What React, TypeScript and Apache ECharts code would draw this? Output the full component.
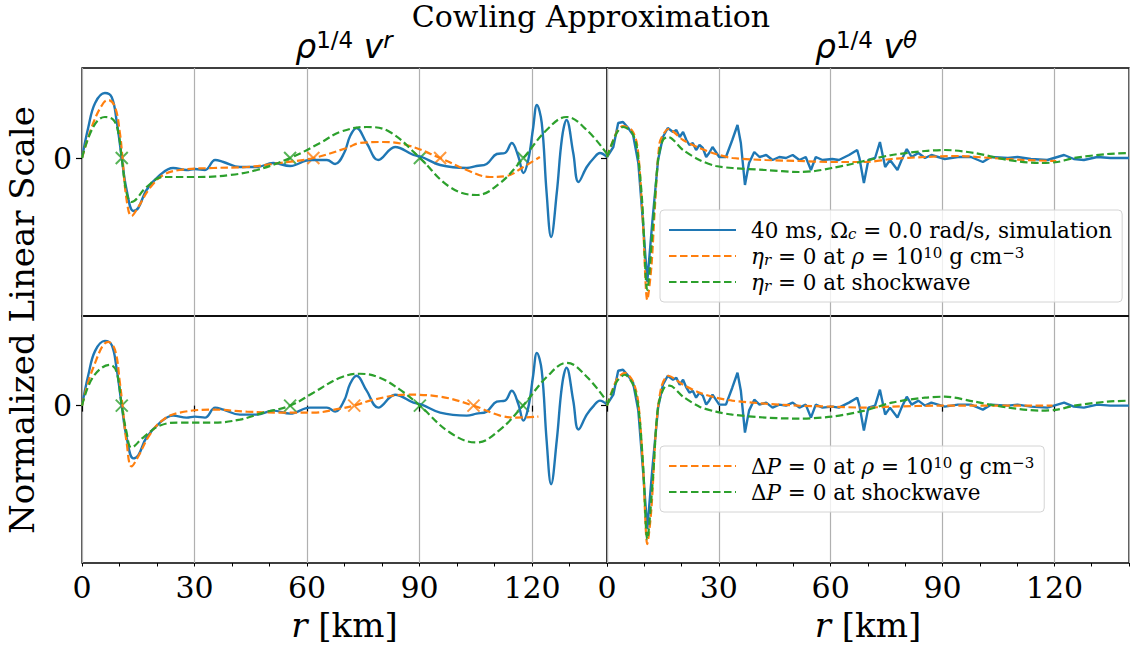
import React, { useEffect, useRef } from "react";
import * as echarts from "echarts";

// ---------- data (r in km, normalized amplitude) ----------
// simulation, rho^{1/4} v^r
const SIM_VR_R = [0, 1.7, 3.5, 6.1, 7.9, 9.2, 10.6, 11.9, 13.7, 15, 17.2, 20.8, 24.3, 27.9, 30.1, 32.8, 35.5, 37.7, 42.1, 46.6, 51, 55.5, 60.8, 65.3, 67.5, 69.9, 71.5, 73.2, 75.9, 79, 83.5, 88.4, 90.6, 95.5, 102.6, 105.2, 107.9, 110.6, 112.8, 114.6, 116.4, 117.7, 119, 120.3, 121.3, 122.6, 123.9, 125.1, 126.6, 128, 129.2, 131, 132.4, 134.6, 136.5, 138.1, 140];
const SIM_VR_V = [0, 0.31, 0.55, 0.65, 0.61, 0.38, 0, -0.32, -0.53, -0.5, -0.32, -0.17, -0.1, -0.12, -0.11, -0.12, -0.02, -0.04, -0.09, -0.09, -0.05, -0.08, -0.02, -0.02, -0.06, 0.05, 0.22, 0.3, 0.15, -0.02, 0.11, 0.03, 0.01, -0.07, -0.1, -0.08, -0.06, 0.04, 0.05, 0.15, 0.01, -0.15, -0.02, 0.3, 0.53, 0.35, -0.35, -0.79, -0.35, 0.2, 0.38, 0.05, -0.24, -0.09, 0, 0.05, 0.01];

// eta_r = 0 at rho = 1e10, v^r
const ETA_RHO_VR_R = [0, 3, 5.7, 7, 8.8, 10.1, 10.8, 11.9, 13.2, 15, 18.1, 21.7, 26.1, 35, 43.9, 52.8, 61.7, 70.6, 74.1, 80.3, 86.6, 95.5, 102.6, 108.8, 113.2, 117.7, 122.1];
const ETA_RHO_VR_V = [0, 0.35, 0.55, 0.58, 0.51, 0.25, 0, -0.42, -0.58, -0.49, -0.3, -0.17, -0.12, -0.1, -0.09, -0.05, 0, 0.1, 0.15, 0.16, 0.13, 0, -0.12, -0.19, -0.18, -0.09, 0.01];
// eta_r = 0 at shockwave, v^r
const ETA_SHOCK_VR_R = [0, 3, 6.1, 8.4, 9.7, 10.6, 11.9, 13.2, 17.2, 21.7, 30.6, 39.5, 46.6, 55.5, 63.5, 68.8, 75.9, 82.1, 90.1, 98.1, 105.2, 111.5, 117.7, 123.9, 129.2, 134.6, 140];
const ETA_SHOCK_VR_V = [0, 0.31, 0.41, 0.38, 0.25, 0, -0.35, -0.44, -0.29, -0.19, -0.19, -0.17, -0.12, 0, 0.15, 0.26, 0.31, 0.26, 0, -0.29, -0.37, -0.25, 0, 0.28, 0.41, 0.28, 0.04];
// dP = 0 at rho = 1e10, v^r
const DP_RHO_VR_R = [0, 3, 7, 8.8, 10.1, 10.8, 11.9, 13.2, 15, 18.1, 21.7, 26.1, 35, 43.9, 52.8, 61.7, 68.8, 72.6, 77.7, 86.6, 95.5, 104.4, 111.5, 115.9, 121.7];
const DP_RHO_VR_V = [0, 0.38, 0.64, 0.56, 0.23, 0, -0.37, -0.61, -0.51, -0.29, -0.14, -0.07, -0.04, -0.06, -0.07, -0.07, -0.03, 0, 0.06, 0.11, 0.09, 0, -0.1, -0.12, -0.11];
// dP = 0 at shockwave, v^r
const DP_SHOCK_VR_R = [0, 3, 7.5, 9.2, 10.6, 11.9, 13.2, 16.3, 20.8, 26.1, 35, 42.1, 48.4, 55.5, 61.7, 68.8, 74.1, 79.4, 84.8, 90.1, 98.1, 105.2, 111.5, 117.6, 124, 129.3, 134.6, 140];
const DP_SHOCK_VR_V = [0, 0.29, 0.41, 0.34, 0, -0.27, -0.42, -0.32, -0.2, -0.17, -0.17, -0.14, -0.07, 0, 0.13, 0.28, 0.32, 0.28, 0.16, 0, -0.27, -0.37, -0.24, 0, 0.29, 0.43, 0.29, 0.04];

// zero crossings (x markers), v^r panels
const ETA_RHO_VR_ZEROS = [61.7, 95.5];
const ETA_SHOCK_VR_ZEROS = [10.6, 55.5, 90.1, 117.7];
const DP_RHO_VR_ZEROS = [72.6, 104.4];
const DP_SHOCK_VR_ZEROS = [10.6, 55.5, 90.1, 117.6];

// simulation, rho^{1/4} v^theta
const SIM_VTH_R = [0, 1.7, 3, 4.3, 5.7, 7, 8.4, 9.6, 10.8, 12.2, 13.7, 15, 16.3, 17.7, 18.6, 19.5, 20.4, 21.3, 22.1, 23, 23.9, 24.8, 25.7, 26.6, 27.4, 28.3, 29.2, 30.1, 31.9, 33.6, 35, 35.9, 37, 38.1, 39.5, 40.9, 42.7, 44.4, 46.2, 48, 49.8, 51.6, 53.3, 54.7, 56, 57.8, 60.4, 62.2, 64.9, 67.1, 67.7, 68.9, 70.1, 71.9, 73.2, 74.6, 75.9, 77.9, 79, 80.4, 81.7, 83.5, 85.3, 87, 90.6, 94.1, 97.6, 100.8, 103, 107.5, 110.1, 113.7, 118.1, 122.6, 125.2, 127.9, 131.5, 135, 138.6, 140];
const SIM_VTH_V = [0.01, 0.11, 0.35, 0.36, 0.3, 0.23, -0.05, -0.62, -1.24, -0.62, -0.02, 0.21, 0.3, 0.26, 0.28, 0.21, 0.26, 0.18, 0.13, 0.15, 0.08, 0.13, 0.1, 0.01, 0.05, 0.11, 0.06, 0.01, 0.01, 0.18, 0.33, 0.15, -0.27, -0.05, 0.06, 0.01, 0.03, -0.02, 0.01, 0, 0.03, -0.02, 0.01, -0.12, 0.01, -0.02, -0.01, -0.02, 0.03, 0.08, 0, -0.25, -0.02, 0, 0.16, -0.09, -0.02, -0.12, -0.02, 0.09, 0.01, 0.05, 0, 0.03, -0.01, 0.01, 0.01, -0.04, 0.01, 0, 0.01, -0.01, -0.02, 0.03, -0.01, -0.02, 0.01, 0, 0, 0];

const ETA_RHO_VTH_R = [0, 2.6, 4.3, 6.6, 8, 8.9, 9.7, 10.8, 11.9, 12.8, 14.1, 15.5, 16.4, 20.4, 24.8, 29.2, 33.6, 42.5, 51.4, 60.3, 69.1, 76.4, 85.3, 94.2, 103, 111.9, 120.5];
const ETA_RHO_VTH_V = [0.01, 0.26, 0.32, 0.28, 0.15, -0.19, -0.69, -1.42, -1.09, -0.52, 0.15, 0.26, 0.29, 0.18, 0.1, 0.04, 0, -0.02, -0.03, -0.04, -0.04, -0.01, 0.01, 0.02, 0, -0.02, -0.03];
const ETA_SHOCK_VTH_R = [0, 2.6, 4.3, 6.6, 8, 9.4, 10.8, 12.3, 13.7, 15, 16.4, 20.4, 24.8, 29.2, 33.6, 42.5, 51.4, 55.8, 60.3, 65.6, 70.1, 76.4, 85.3, 90.6, 98.6, 107.5, 116.4, 120.8, 125.3, 134.2, 140];
const ETA_SHOCK_VTH_V = [0.01, 0.25, 0.31, 0.26, 0.11, -0.42, -1.32, -0.69, -0.02, 0.18, 0.21, 0.08, -0.02, -0.08, -0.1, -0.12, -0.14, -0.13, -0.1, -0.06, -0.02, 0.03, 0.07, 0.08, 0.05, -0.02, -0.05, -0.04, 0, 0.04, 0.05];
const DP_RHO_VTH_R = [0, 2.6, 4.8, 7, 8.4, 9.7, 10.8, 11.9, 13.2, 14.6, 16.4, 20.4, 24.8, 29.2, 33.6, 42.5, 51.4, 60.3, 69.1, 76.4, 89.7, 103, 119.5];
const DP_RHO_VTH_V = [0, 0.26, 0.33, 0.24, 0.03, -0.64, -1.39, -1.04, -0.21, 0.19, 0.3, 0.21, 0.13, 0.08, 0.05, 0.02, 0, -0.01, -0.02, -0.01, 0, 0, 0];
const DP_SHOCK_VTH_R = [0, 2.6, 4.8, 7, 8.4, 9.7, 10.8, 12.3, 13.7, 15.5, 16.8, 20.4, 24.8, 29.2, 33.6, 42.5, 51.4, 60.3, 69.1, 76.4, 85.3, 90.6, 98.6, 107.5, 116.4, 120.8, 125.3, 134.2, 140];
const DP_SHOCK_VTH_V = [0, 0.24, 0.31, 0.21, -0.01, -0.61, -1.34, -0.74, -0.01, 0.19, 0.2, 0.09, -0.01, -0.06, -0.09, -0.12, -0.13, -0.11, -0.05, 0.03, 0.08, 0.09, 0.04, -0.02, -0.05, -0.04, 0, 0.04, 0.05];

// axes
const X_MIN = 0;
const X_MAX = 140;
const X_STEP = 30;
const X_MINOR_STEP = 10;
const Y_MIN = -1.58;
const Y_MAX = 0.9;
const Y_STEP = 0.79;
const Y_TICKS = [0];

// texts
const TITLE = "Cowling Approximation";
const Y_LABEL = "Normalized Linear Scale";
const NAME_SIM = "40 ms, Ωc = 0.0 rad/s, simulation";
const NAME_ETA_RHO = "ηr = 0 at ρ = 10^10 g cm^-3";
const NAME_ETA_SHOCK = "ηr = 0 at shockwave";
const NAME_DP_RHO = "ΔP = 0 at ρ = 10^10 g cm^-3";
const NAME_DP_SHOCK = "ΔP = 0 at shockwave";

const LEGEND_RICH_TEXT: Record<string, string> = {
  [NAME_SIM]: "40 ms, Ω{sub|c} = 0.0 rad/s, simulation",
  [NAME_ETA_RHO]: "{it|η}{sub|r} = 0 at {it|ρ} = 10{sup|10} g cm{sup|−3}",
  [NAME_ETA_SHOCK]: "{it|η}{sub|r} = 0 at shockwave",
  [NAME_DP_RHO]: "Δ{it|P} = 0 at {it|ρ} = 10{sup|10} g cm{sup|−3}",
  [NAME_DP_SHOCK]: "Δ{it|P} = 0 at shockwave",
};

const FONT = '"DejaVu Serif", "Liberation Serif", serif';
const MATH = '"DejaVu Sans", "DejaVu Serif", sans-serif';
const BLUE = "#1f77b4";
const ORANGE = "#ff7f0e";
const GREEN = "#2ca02c";

const pairs = (r: number[], v: number[]) => r.map((x, i) => [x, v[i]]);
const zeros = (r: number[]) => r.map((x) => [x, 0]);

export default function App() {
  const ref = useRef<HTMLDivElement>(null);

  useEffect(() => {
    if (!ref.current) return;
    const chart = echarts.init(ref.current, undefined, { renderer: "svg" });

    const gridBoxes = [
      { left: 82, top: 68, width: 525, height: 248 },
      { left: 607, top: 68, width: 522, height: 248 },
      { left: 82, top: 316, width: 525, height: 247 },
      { left: 607, top: 316, width: 522, height: 247 },
    ];
    const grid = gridBoxes.map((g) => ({
      ...g,
      show: true,
      borderColor: "#000",
      borderWidth: 1.3,
      backgroundColor: "transparent",
    }));

    const xAxis: any[] = [0, 1, 2, 3].map((i) => ({
      type: "value",
      gridIndex: i,
      min: X_MIN,
      max: X_MAX,
      interval: X_STEP,
      axisLine: { show: false },
      axisTick: { show: i >= 2, length: 6, lineStyle: { color: "#000", width: 1.2 } },
      axisLabel: {
        show: i >= 2,
        showMaxLabel: false,
        fontFamily: FONT,
        fontSize: 30,
        color: "#000",
        margin: 9,
      },
      splitLine: { show: true, lineStyle: { color: "#b0b0b0", width: 1.2 } },
      name: i >= 2 ? "{i|r} [km]" : "",
      nameLocation: "middle",
      nameGap: 45,
      nameTextStyle: {
        fontFamily: FONT,
        fontSize: 34,
        color: "#000",
        rich: { i: { fontFamily: FONT, fontStyle: "italic", fontSize: 34, color: "#000" } },
      },
    }));
    [2, 3].forEach((g) =>
      xAxis.push({
        type: "value",
        gridIndex: g,
        min: X_MIN,
        max: X_MAX,
        interval: X_MINOR_STEP,
        position: "bottom",
        axisLine: { show: false },
        axisTick: { show: true, length: 3.5, lineStyle: { color: "#000", width: 1 } },
        axisLabel: { show: false },
        splitLine: { show: false },
      })
    );

    const yAxis = [0, 1, 2, 3].map((i) => ({
      type: "value",
      gridIndex: i,
      min: Y_MIN,
      max: Y_MAX,
      interval: Y_STEP,
      axisLine: { show: false },
      axisTick: { show: true, customValues: Y_TICKS, length: 6, lineStyle: { color: "#000", width: 1.2 } },
      axisLabel: {
        show: i % 2 === 0,
        customValues: Y_TICKS,
        fontFamily: FONT,
        fontSize: 30,
        color: "#000",
        margin: 10,
      },
      splitLine: {
        show: true,
        lineStyle: {
          color: ["transparent", "transparent", "#b0b0b0", "transparent", "transparent", "transparent"],
          width: 1.2,
        },
      },
    }));

    const lineSeries = (name: string, data: number[][], k: number, color: string, dashed: boolean, smooth: any) => ({
      type: "line",
      name,
      xAxisIndex: k,
      yAxisIndex: k,
      data,
      symbol: "none",
      showSymbol: false,
      smooth,
      clip: true,
      lineStyle: { color, width: dashed ? 2.2 : 2.4, type: dashed ? [7.5, 3.5] : "solid" },
      itemStyle: { color },
      emphasis: { disabled: true },
    });
    const markerSeries = (data: number[][], k: number, color: string) => ({
      type: "scatter",
      name: "zeros",
      xAxisIndex: k,
      yAxisIndex: k,
      data,
      symbol: "path://M0,0L10,10M10,0L0,10",
      symbolSize: 12,
      itemStyle: { color: "transparent", borderColor: color, borderWidth: 2 },
      emphasis: { disabled: true },
    });

    const series: any[] = [
      // top-left
      lineSeries(NAME_SIM, pairs(SIM_VR_R, SIM_VR_V), 0, BLUE, false, 0.4),
      lineSeries(NAME_ETA_RHO, pairs(ETA_RHO_VR_R, ETA_RHO_VR_V), 0, ORANGE, true, 0.4),
      lineSeries(NAME_ETA_SHOCK, pairs(ETA_SHOCK_VR_R, ETA_SHOCK_VR_V), 0, GREEN, true, 0.4),
      markerSeries(zeros(ETA_RHO_VR_ZEROS), 0, ORANGE),
      markerSeries(zeros(ETA_SHOCK_VR_ZEROS), 0, GREEN),
      // top-right
      lineSeries(NAME_SIM, pairs(SIM_VTH_R, SIM_VTH_V), 1, BLUE, false, false),
      lineSeries(NAME_ETA_RHO, pairs(ETA_RHO_VTH_R, ETA_RHO_VTH_V), 1, ORANGE, true, 0.3),
      lineSeries(NAME_ETA_SHOCK, pairs(ETA_SHOCK_VTH_R, ETA_SHOCK_VTH_V), 1, GREEN, true, 0.3),
      // bottom-left
      lineSeries(NAME_SIM, pairs(SIM_VR_R, SIM_VR_V), 2, BLUE, false, 0.4),
      lineSeries(NAME_DP_RHO, pairs(DP_RHO_VR_R, DP_RHO_VR_V), 2, ORANGE, true, 0.4),
      lineSeries(NAME_DP_SHOCK, pairs(DP_SHOCK_VR_R, DP_SHOCK_VR_V), 2, GREEN, true, 0.4),
      markerSeries(zeros(DP_RHO_VR_ZEROS), 2, ORANGE),
      markerSeries(zeros(DP_SHOCK_VR_ZEROS), 2, GREEN),
      // bottom-right
      lineSeries(NAME_SIM, pairs(SIM_VTH_R, SIM_VTH_V), 3, BLUE, false, false),
      lineSeries(NAME_DP_RHO, pairs(DP_RHO_VTH_R, DP_RHO_VTH_V), 3, ORANGE, true, 0.3),
      lineSeries(NAME_DP_SHOCK, pairs(DP_SHOCK_VTH_R, DP_SHOCK_VTH_V), 3, GREEN, true, 0.3),
    ];

    const legendText = {
      fontFamily: FONT,
      fontSize: 21.5,
      color: "#000",
      lineHeight: 22,
      padding: [0, 0, 0, 10],
      rich: {
        it: { fontFamily: FONT, fontStyle: "italic", fontSize: 21.5, lineHeight: 22, color: "#000" },
        sub: { fontFamily: FONT, fontStyle: "italic", fontSize: 15, lineHeight: 13, verticalAlign: "bottom", color: "#000" },
        sup: { fontFamily: FONT, fontSize: 15, lineHeight: 14, verticalAlign: "top", color: "#000" },
      },
    };
    const legendBase = {
      orient: "vertical",
      left: 660,
      itemWidth: 67,
      itemHeight: 12,
      itemGap: 4,
      padding: [9, 10, 9, 8],
      backgroundColor: "rgba(255,255,255,0.8)",
      borderColor: "#d4d4d4",
      borderWidth: 1,
      borderRadius: 4,
      selectedMode: false,
      itemStyle: { color: "transparent", borderColor: "transparent", borderWidth: 0, opacity: 0 },
      textStyle: legendText,
      formatter: (n: string) => LEGEND_RICH_TEXT[n] || n,
    };

    const colTitleRich = {
      m: { fontFamily: MATH, fontStyle: "italic", fontSize: 33, lineHeight: 36, color: "#000" },
      g: { fontFamily: MATH, fontSize: 33, lineHeight: 36, color: "#000" },
      s: { fontFamily: MATH, fontSize: 23, lineHeight: 22, verticalAlign: "top", color: "#000" },
      si: { fontFamily: MATH, fontStyle: "italic", fontSize: 23, lineHeight: 22, verticalAlign: "top", color: "#000" },
    };

    chart.setOption({
      animation: false,
      backgroundColor: "#ffffff",
      grid,
      xAxis,
      yAxis,
      series,
      legend: [
        { ...legendBase, top: 210, data: [NAME_SIM, NAME_ETA_RHO, NAME_ETA_SHOCK] },
        { ...legendBase, top: 446, data: [NAME_DP_RHO, NAME_DP_SHOCK] },
      ],
      graphic: [
        {
          type: "text",
          x: 591,
          y: 16,
          style: {
            text: TITLE,
            font: `30px ${FONT}`,
            fill: "#000",
            align: "center",
            verticalAlign: "middle",
            textAlign: "center",
            textVerticalAlign: "middle",
          },
        },
        {
          type: "text",
          x: 344,
          y: 46,
          style: {
            text: "{m|ρ}{s|1/4}{g| }{m|v}{si|r}",
            rich: colTitleRich,
            fill: "#000",
            align: "center",
            verticalAlign: "middle",
            textAlign: "center",
            textVerticalAlign: "middle",
          },
        },
        {
          type: "text",
          x: 866,
          y: 46,
          style: {
            text: "{m|ρ}{s|1/4}{g| }{m|v}{si|θ}",
            rich: colTitleRich,
            fill: "#000",
            align: "center",
            verticalAlign: "middle",
            textAlign: "center",
            textVerticalAlign: "middle",
          },
        },
        {
          type: "text",
          x: 22,
          y: 320,
          rotation: Math.PI / 2,
          style: {
            text: Y_LABEL,
            font: `34px ${FONT}`,
            fill: "#000",
            align: "center",
            verticalAlign: "middle",
            textAlign: "center",
            textVerticalAlign: "middle",
          },
        },
      ],
    });

    return () => chart.dispose();
  }, []);

  return (
    <div
      ref={ref}
      style={{ position: "fixed", left: 0, top: 0, width: 1130, height: 651, background: "#fff" }}
    />
  );
}
